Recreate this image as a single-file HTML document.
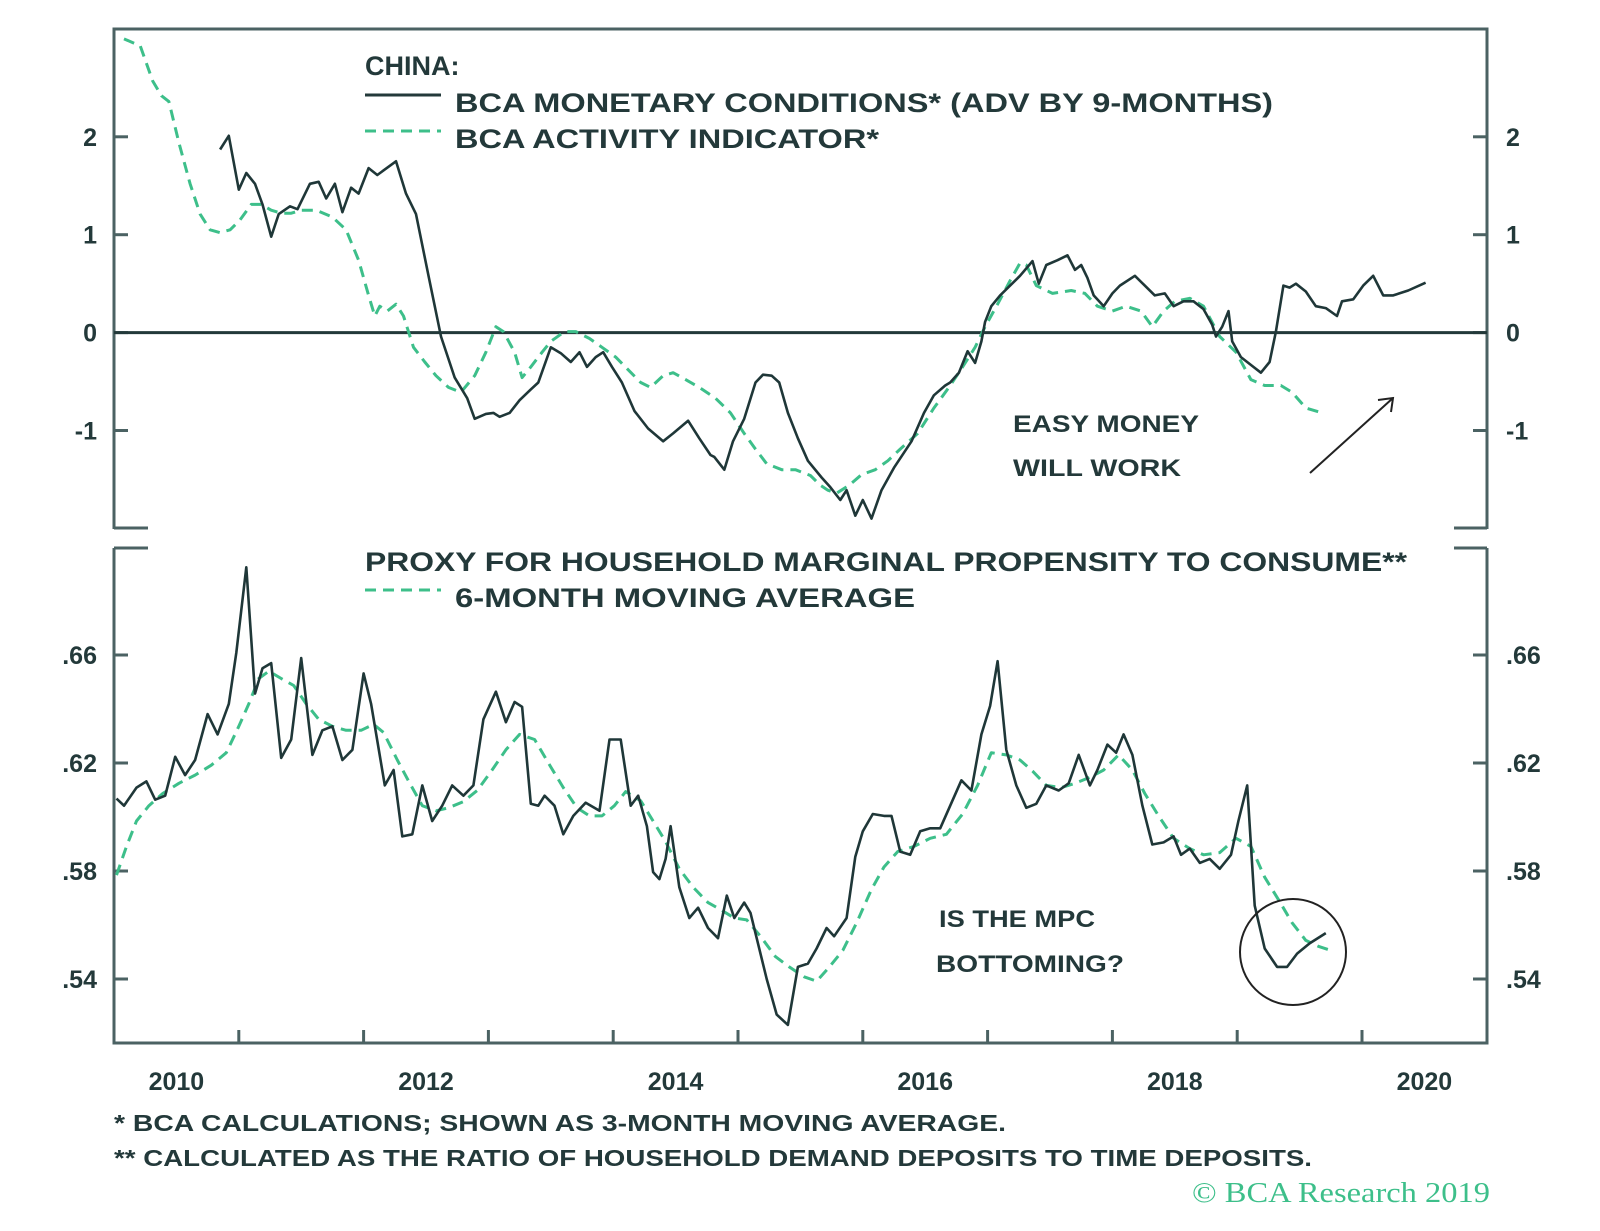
<!DOCTYPE html>
<html><head><meta charset="utf-8"><style>
html,body{margin:0;padding:0;background:#fff;}
svg{display:block;}
text{font-family:"Liberation Sans",sans-serif;font-weight:bold;fill:#23393a;}
</style></head><body>
<svg id="chart" width="1600" height="1231" viewBox="0 0 1600 1231" xmlns="http://www.w3.org/2000/svg">
<g id="frames" stroke="#4b6263" stroke-width="3" fill="none">
  <path d="M114,529 V29 H1487 V529 M114,528 H148 M1454,528 H1487"/>
  <path d="M114,548 V1043 H1487 V548 M114,548 H148 M1454,548 H1487"/>
</g>
<g id="ticks" stroke="#4b6263" stroke-width="3"></g>
<g id="labels"></g>
<line x1="114" x2="1487" y1="332.6" y2="332.6" stroke="#23393a" stroke-width="3"/>
<g id="series"></g>

<g>
  <text x="365" y="75" font-size="27">CHINA:</text>
  <line x1="365" x2="441" y1="95" y2="95" stroke="#23393a" stroke-width="3"/>
  <text x="455" y="112" font-size="27" textLength="818" lengthAdjust="spacingAndGlyphs">BCA MONETARY CONDITIONS* (ADV BY 9-MONTHS)</text>
  <line x1="365" x2="441" y1="131" y2="131" stroke="#3dbf8a" stroke-width="3" stroke-dasharray="11,7"/>
  <text x="455" y="148" font-size="27" textLength="424" lengthAdjust="spacingAndGlyphs">BCA ACTIVITY INDICATOR*</text>
</g>
<g>
  <text x="365" y="571" font-size="27" textLength="1042" lengthAdjust="spacingAndGlyphs">PROXY FOR HOUSEHOLD MARGINAL PROPENSITY TO CONSUME**</text>
  <line x1="365" x2="441" y1="590" y2="590" stroke="#3dbf8a" stroke-width="3" stroke-dasharray="11,7"/>
  <text x="455" y="607" font-size="27" textLength="460" lengthAdjust="spacingAndGlyphs">6-MONTH MOVING AVERAGE</text>
</g>
<g>
  <text x="1013" y="432" font-size="24" fill="#111" textLength="186" lengthAdjust="spacingAndGlyphs">EASY MONEY</text>
  <text x="1013" y="476" font-size="24" fill="#111" textLength="168" lengthAdjust="spacingAndGlyphs">WILL WORK</text>
  <line x1="1310" y1="473" x2="1393" y2="398" stroke="#222" stroke-width="2"/>
  <path d="M1378,400 L1393,398 L1391,412" stroke="#222" stroke-width="2" fill="none"/>
</g>
<g>
  <text x="939" y="927" font-size="24" fill="#111" textLength="156" lengthAdjust="spacingAndGlyphs">IS THE MPC</text>
  <text x="936" y="972" font-size="24" fill="#111" textLength="188" lengthAdjust="spacingAndGlyphs">BOTTOMING?</text>
  <circle cx="1293" cy="952" r="53" stroke="#222" stroke-width="2" fill="none"/>
</g>
<g>
  <text x="114" y="1131" font-size="23" textLength="892" lengthAdjust="spacingAndGlyphs">*  BCA CALCULATIONS; SHOWN AS 3-MONTH MOVING AVERAGE.</text>
  <text x="114" y="1166" font-size="23" textLength="1198" lengthAdjust="spacingAndGlyphs">** CALCULATED AS THE RATIO OF HOUSEHOLD DEMAND DEPOSITS TO TIME DEPOSITS.</text>
  <text x="1490" y="1202" font-size="28" text-anchor="end" style="font-family:'Liberation Serif',serif;font-weight:normal;fill:#3dbf8a" textLength="298" lengthAdjust="spacingAndGlyphs">© BCA Research 2019</text>
</g>
</svg>
<script>
const yearTicks = [2011,2012,2013,2014,2015,2016,2017,2018,2019,2020];
const yearLabels = [2010,2012,2014,2016,2018,2020];
const topTicks = [2,1,0,-1];
const topTickLabels = ["2","1","0","-1"];
const bottomTicks = [0.66,0.62,0.58,0.54];
const bottomTickLabels = [".66",".62",".58",".54"];

const monetaryYears = [2010.85,2010.92,2011.00,2011.06,2011.13,2011.19,2011.26,2011.32,2011.41,2011.47,2011.57,2011.64,2011.70,2011.77,2011.83,2011.90,2011.96,2012.04,2012.11,2012.26,2012.34,2012.42,2012.52,2012.62,2012.73,2012.83,2012.89,2012.98,2013.04,2013.09,2013.17,2013.25,2013.34,2013.40,2013.50,2013.58,2013.66,2013.73,2013.79,2013.86,2013.92,2013.99,2014.07,2014.17,2014.28,2014.40,2014.48,2014.60,2014.69,2014.78,2014.81,2014.89,2014.96,2015.05,2015.14,2015.20,2015.27,2015.33,2015.40,2015.48,2015.56,2015.67,2015.74,2015.82,2015.87,2015.94,2016.00,2016.07,2016.15,2016.25,2016.39,2016.49,2016.57,2016.66,2016.70,2016.77,2016.84,2016.90,2016.95,2016.98,2017.03,2017.10,2017.18,2017.26,2017.36,2017.41,2017.47,2017.56,2017.64,2017.70,2017.75,2017.80,2017.85,2017.93,2018.00,2018.06,2018.18,2018.26,2018.34,2018.42,2018.49,2018.57,2018.65,2018.73,2018.80,2018.83,2018.88,2018.93,2018.96,2019.03,2019.13,2019.19,2019.26,2019.31,2019.37,2019.42,2019.47,2019.55,2019.63,2019.71,2019.80,2019.84,2019.93,2020.01,2020.09,2020.17,2020.25,2020.37,2020.51];
const monetaryValues = [1.87,2.01,1.46,1.63,1.52,1.31,0.98,1.21,1.29,1.26,1.52,1.54,1.37,1.52,1.23,1.48,1.42,1.68,1.61,1.75,1.42,1.21,0.58,-0.04,-0.46,-0.67,-0.88,-0.83,-0.82,-0.86,-0.82,-0.69,-0.58,-0.51,-0.15,-0.21,-0.30,-0.20,-0.35,-0.25,-0.20,-0.35,-0.51,-0.80,-0.98,-1.11,-1.03,-0.90,-1.08,-1.25,-1.27,-1.40,-1.11,-0.88,-0.51,-0.43,-0.44,-0.51,-0.82,-1.08,-1.31,-1.48,-1.58,-1.71,-1.61,-1.87,-1.71,-1.90,-1.61,-1.38,-1.11,-0.82,-0.64,-0.54,-0.51,-0.41,-0.19,-0.31,-0.09,0.11,0.27,0.38,0.48,0.58,0.73,0.50,0.69,0.74,0.79,0.64,0.69,0.56,0.38,0.27,0.40,0.48,0.58,0.48,0.38,0.40,0.27,0.32,0.32,0.24,0.08,-0.04,0.06,0.22,-0.09,-0.25,-0.35,-0.41,-0.30,0.01,0.48,0.46,0.50,0.42,0.27,0.25,0.17,0.32,0.34,0.48,0.58,0.38,0.38,0.43,0.51];

const activityYears = [2010.08,2010.21,2010.31,2010.38,2010.44,2010.52,2010.61,2010.69,2010.77,2010.85,2010.93,2011.01,2011.10,2011.18,2011.26,2011.34,2011.42,2011.50,2011.62,2011.75,2011.86,2011.96,2012.04,2012.09,2012.13,2012.19,2012.26,2012.32,2012.40,2012.49,2012.58,2012.68,2012.78,2012.89,2012.98,2013.06,2013.12,2013.21,2013.27,2013.34,2013.43,2013.50,2013.61,2013.70,2013.81,2013.91,2014.02,2014.12,2014.22,2014.30,2014.40,2014.48,2014.58,2014.69,2014.82,2014.94,2015.05,2015.14,2015.23,2015.35,2015.46,2015.58,2015.66,2015.72,2015.79,2015.89,2015.99,2016.10,2016.20,2016.30,2016.44,2016.57,2016.69,2016.80,2016.90,2016.98,2017.08,2017.18,2017.26,2017.31,2017.39,2017.52,2017.67,2017.78,2017.88,2018.00,2018.11,2018.23,2018.32,2018.41,2018.50,2018.62,2018.73,2018.86,2018.99,2019.11,2019.22,2019.35,2019.44,2019.55,2019.68];
const activityValues = [3.00,2.93,2.57,2.42,2.36,1.94,1.52,1.21,1.05,1.02,1.05,1.15,1.31,1.31,1.25,1.22,1.22,1.25,1.25,1.18,1.05,0.74,0.38,0.17,0.27,0.22,0.29,0.17,-0.15,-0.30,-0.44,-0.56,-0.61,-0.44,-0.20,0.06,0.01,-0.20,-0.46,-0.35,-0.20,-0.09,0.01,0.01,-0.06,-0.15,-0.25,-0.38,-0.51,-0.56,-0.44,-0.41,-0.48,-0.56,-0.67,-0.82,-1.03,-1.19,-1.34,-1.40,-1.40,-1.46,-1.56,-1.61,-1.64,-1.56,-1.45,-1.40,-1.31,-1.19,-1.03,-0.77,-0.56,-0.35,-0.15,0.06,0.29,0.53,0.71,0.69,0.48,0.40,0.43,0.40,0.27,0.22,0.27,0.22,0.06,0.22,0.32,0.35,0.27,-0.04,-0.20,-0.48,-0.54,-0.54,-0.61,-0.77,-0.82];

const mpcYears = [2010.02,2010.08,2010.18,2010.26,2010.33,2010.41,2010.49,2010.57,2010.65,2010.75,2010.83,2010.92,2010.98,2011.06,2011.13,2011.19,2011.26,2011.34,2011.42,2011.50,2011.59,2011.67,2011.75,2011.83,2011.91,2012.00,2012.06,2012.17,2012.24,2012.31,2012.39,2012.47,2012.55,2012.63,2012.71,2012.80,2012.88,2012.96,2013.06,2013.14,2013.21,2013.27,2013.34,2013.40,2013.45,2013.53,2013.60,2013.68,2013.78,2013.89,2013.97,2014.06,2014.14,2014.20,2014.27,2014.32,2014.37,2014.42,2014.46,2014.53,2014.61,2014.68,2014.76,2014.84,2014.91,2014.97,2015.05,2015.10,2015.15,2015.23,2015.31,2015.40,2015.48,2015.56,2015.63,2015.71,2015.77,2015.87,2015.94,2016.00,2016.08,2016.17,2016.23,2016.30,2016.38,2016.46,2016.54,2016.62,2016.70,2016.79,2016.87,2016.95,2017.02,2017.08,2017.15,2017.23,2017.31,2017.39,2017.47,2017.57,2017.65,2017.73,2017.82,2017.88,2017.96,2018.03,2018.09,2018.16,2018.24,2018.32,2018.41,2018.49,2018.55,2018.62,2018.70,2018.78,2018.86,2018.95,2019.01,2019.08,2019.14,2019.22,2019.32,2019.40,2019.48,2019.58,2019.71];
const mpcValues = [0.6068,0.6042,0.6109,0.6132,0.6064,0.6079,0.6223,0.6155,0.6211,0.6381,0.6306,0.6419,0.6608,0.6925,0.6457,0.6551,0.6570,0.6219,0.6287,0.6589,0.6230,0.6321,0.6336,0.6211,0.6249,0.6532,0.6419,0.6117,0.6174,0.5928,0.5936,0.6117,0.5985,0.6042,0.6117,0.6079,0.6117,0.6362,0.6464,0.6351,0.6426,0.6408,0.6049,0.6042,0.6079,0.6042,0.5936,0.6004,0.6053,0.6023,0.6287,0.6287,0.6042,0.6079,0.5966,0.5796,0.5770,0.5845,0.5966,0.5740,0.5626,0.5664,0.5589,0.5551,0.5709,0.5626,0.5683,0.5645,0.5551,0.5400,0.5268,0.5230,0.5445,0.5457,0.5513,0.5589,0.5558,0.5626,0.5853,0.5947,0.6011,0.6004,0.6004,0.5872,0.5860,0.5947,0.5958,0.5958,0.6042,0.6136,0.6098,0.6306,0.6411,0.6577,0.6249,0.6117,0.6034,0.6049,0.6117,0.6098,0.6125,0.6230,0.6117,0.6174,0.6268,0.6238,0.6306,0.6230,0.6042,0.5898,0.5906,0.5928,0.5860,0.5883,0.5830,0.5845,0.5808,0.5860,0.5985,0.6117,0.5672,0.5513,0.5445,0.5445,0.5494,0.5532,0.5570];

const mpcMaYears = [2010.02,2010.10,2010.18,2010.28,2010.39,2010.52,2010.65,2010.78,2010.90,2011.00,2011.08,2011.16,2011.24,2011.34,2011.44,2011.54,2011.64,2011.75,2011.86,2011.98,2012.08,2012.16,2012.27,2012.37,2012.47,2012.58,2012.68,2012.80,2012.91,2013.03,2013.14,2013.25,2013.37,2013.50,2013.60,2013.71,2013.81,2013.91,2014.01,2014.10,2014.22,2014.32,2014.42,2014.53,2014.64,2014.76,2014.86,2014.97,2015.07,2015.18,2015.30,2015.41,2015.53,2015.63,2015.72,2015.84,2015.95,2016.07,2016.17,2016.28,2016.41,2016.54,2016.67,2016.80,2016.92,2017.03,2017.15,2017.26,2017.36,2017.47,2017.59,2017.70,2017.82,2017.93,2018.05,2018.16,2018.26,2018.37,2018.49,2018.62,2018.73,2018.86,2018.99,2019.11,2019.22,2019.34,2019.44,2019.55,2019.65,2019.75];
const mpcMaValues = [0.5785,0.5891,0.5985,0.6042,0.6087,0.6125,0.6155,0.6192,0.6238,0.6336,0.6419,0.6513,0.6540,0.6513,0.6487,0.6419,0.6362,0.6336,0.6321,0.6321,0.6343,0.6313,0.6211,0.6125,0.6042,0.6023,0.6034,0.6057,0.6098,0.6174,0.6249,0.6306,0.6287,0.6185,0.6109,0.6034,0.6004,0.6004,0.6042,0.6094,0.6060,0.5985,0.5909,0.5808,0.5740,0.5683,0.5657,0.5626,0.5619,0.5558,0.5483,0.5445,0.5408,0.5392,0.5438,0.5506,0.5608,0.5732,0.5815,0.5872,0.5891,0.5921,0.5936,0.6011,0.6117,0.6238,0.6230,0.6211,0.6170,0.6117,0.6109,0.6125,0.6147,0.6174,0.6230,0.6174,0.6087,0.6004,0.5921,0.5883,0.5860,0.5868,0.5921,0.5891,0.5777,0.5687,0.5608,0.5543,0.5521,0.5506];

const NS = "http://www.w3.org/2000/svg";
function xScale(yr){ return 114 + (yr - 2010) * 124.8; }
function yTop(v){ return 332.6 - v * 97.9; }
function yBottom(v){ return 655 - (v - 0.66) * 2700; }

function mk(tag, attrs, parent){
  const el = document.createElementNS(NS, tag);
  for (const k in attrs) el.setAttribute(k, attrs[k]);
  parent.appendChild(el);
  return el;
}
const ticksG = document.getElementById('ticks');
const labelsG = document.getElementById('labels');
const seriesG = document.getElementById('series');

yearTicks.forEach(yr => {
  const x = xScale(yr);
  const t = mk('line', {x1:x, x2:x, y1:1043, y2:1030}, ticksG);
  
  
});
yearLabels.forEach(yr => {
  const t = mk('text', {x: xScale(yr + 0.5), y: 1090, 'font-size': 25, 'text-anchor': 'middle'}, labelsG);
  t.textContent = String(yr);
  
  
});
function yAxis(vals, labs, fn){
  vals.forEach((v, i) => {
    const y = fn(v);
    const a = mk('line', {x1:114, x2:128, y1:y, y2:y}, ticksG);
    
    
    const b = mk('line', {x1:1473, x2:1487, y1:y, y2:y}, ticksG);
    
    
    const l = mk('text', {x: 97, y: y + 9, 'font-size': 25, 'text-anchor': 'end'}, labelsG);
    l.textContent = labs[i];
    
    
    const r = mk('text', {x: 1506, y: y + 9, 'font-size': 25, 'text-anchor': 'start'}, labelsG);
    r.textContent = labs[i];
    
    
  });
}
yAxis(topTicks, topTickLabels, yTop);
yAxis(bottomTicks, bottomTickLabels, yBottom);

function drawLine(xs, vs, fn, color, dash, name){
  const d = xs.map((yr, i) => (i ? 'L' : 'M') + xScale(yr).toFixed(1) + ',' + fn(vs[i]).toFixed(1)).join(' ');
  const p = mk('path', {d: d, fill: 'none', stroke: color, 'stroke-width': dash ? 3 : 2.6, 'stroke-linejoin': 'round'}, seriesG);
  if (dash) p.setAttribute('stroke-dasharray', '11,7');
  
  
}
drawLine(activityYears, activityValues, yTop, '#3dbf8a', true, 'activity-indicator-line');
drawLine(monetaryYears, monetaryValues, yTop, '#1f3738', false, 'monetary-conditions-line');
drawLine(mpcMaYears, mpcMaValues, yBottom, '#3dbf8a', true, 'mpc-moving-average-line');
drawLine(mpcYears, mpcValues, yBottom, '#1f3738', false, 'mpc-proxy-line');
</script>
</body></html>
